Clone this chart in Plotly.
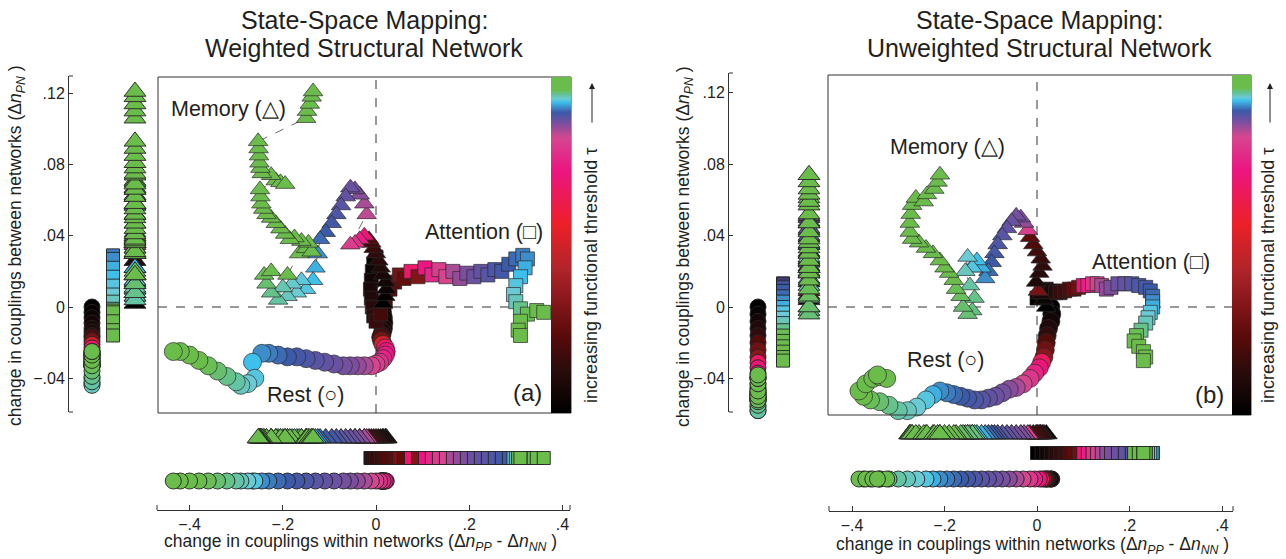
import plotly.graph_objects as go

# ---------------- DATA ----------------
# Panel (a): weighted structural network.  t = relative functional threshold (0..1)
rest_a_x = [0.012, 0.014, 0.016, 0.017, 0.016, 0.014, 0.012, 0.010, 0.012, 0.015, 0.020, 0.022, 0.020, 0.015, 0.008,
            0.000, -0.010, -0.025, -0.040, -0.055, -0.070, -0.090, -0.110, -0.130, -0.150, -0.170, -0.190, -0.210,
            -0.230, -0.245, -0.265, -0.260, -0.275, -0.290, -0.300, -0.320, -0.340, -0.360, -0.380, -0.400, -0.420, -0.435]
rest_a_y = [0.000, -0.003, -0.006, -0.009, -0.012, -0.014, -0.016, -0.017, -0.019, -0.021, -0.023, -0.025, -0.027, -0.029, -0.031,
            -0.032, -0.033, -0.033, -0.033, -0.033, -0.033, -0.032, -0.031, -0.030, -0.029, -0.028, -0.028, -0.027,
            -0.026, -0.026, -0.031, -0.040, -0.043, -0.044, -0.042, -0.039, -0.036, -0.033, -0.030, -0.027, -0.025, -0.025]
rest_a_t = [0.00, 0.02, 0.04, 0.06, 0.08, 0.10, 0.14, 0.20, 0.30, 0.50, 0.68, 0.71, 0.73, 0.75, 0.78,
            0.80, 0.82, 0.84, 0.85, 0.86, 0.865, 0.87, 0.875, 0.88, 0.885, 0.89, 0.895, 0.90,
            0.905, 0.91, 0.925, 0.93, 0.935, 0.94, 0.945, 0.95, 0.955, 0.96, 0.97, 0.98, 0.99, 1.00]

attn_a_x = [0.000, -0.005, -0.008, -0.010, -0.012, -0.010, -0.008, -0.005, 0.000, 0.010, 0.020, 0.030, 0.040, 0.050,
            0.060, 0.075, 0.090, 0.105, 0.120, 0.135, 0.150, 0.165, 0.180, 0.195, 0.210, 0.225, 0.240, 0.255, 0.270,
            0.285, 0.300, 0.315, 0.325, 0.320, 0.310, 0.300, 0.295, 0.300, 0.310, 0.325, 0.345, 0.360, 0.310, 0.305, 0.310]
attn_a_y = [0.028, 0.024, 0.020, 0.015, 0.010, 0.005, 0.000, -0.005, -0.008, -0.004, 0.003, 0.010, 0.014, 0.018,
            0.016, 0.020, 0.017, 0.022, 0.018, 0.021, 0.017, 0.020, 0.016, 0.019, 0.017, 0.020, 0.018, 0.021, 0.020,
            0.024, 0.027, 0.029, 0.027, 0.022, 0.017, 0.012, 0.007, 0.003, -0.001, -0.004, -0.002, -0.003, -0.008, -0.013, -0.016]
attn_a_t = [0.00, 0.02, 0.04, 0.06, 0.08, 0.10, 0.12, 0.14, 0.16, 0.18, 0.20, 0.22, 0.24, 0.30,
            0.25, 0.68, 0.32, 0.72, 0.76, 0.80, 0.82, 0.84, 0.85, 0.86, 0.87, 0.875, 0.88, 0.885, 0.89,
            0.895, 0.90, 0.905, 0.91, 0.92, 0.925, 0.93, 0.935, 0.94, 0.95, 0.96, 0.97, 0.975, 0.98, 0.99, 1.00]

mem_a_x = [0.015, 0.020, 0.022, 0.020, 0.015, 0.010, 0.005, 0.000, -0.005, -0.010, -0.015, -0.025, -0.035, -0.045, -0.055,
           -0.020, -0.025, -0.035, -0.045, -0.055, -0.065, -0.075, -0.085, -0.095, -0.108, -0.120,
           -0.125, -0.130, -0.135, -0.150, -0.160, -0.170, -0.180, -0.190, -0.200, -0.210, -0.225, -0.235, -0.240, -0.225, -0.190,
           -0.165, -0.150, -0.138, -0.145, -0.160, -0.175, -0.185, -0.195, -0.205, -0.215, -0.225, -0.235, -0.242, -0.246,
           -0.248, -0.249, -0.215, -0.205, -0.195, -0.225, -0.245, -0.248, -0.250, -0.251, -0.252, -0.253,
           -0.150, -0.148, -0.142, -0.138, -0.135]
mem_a_y = [0.002, 0.006, 0.010, 0.014, 0.018, 0.022, 0.026, 0.030, 0.033, 0.036, 0.038, 0.040, 0.038, 0.036, 0.035,
           0.052, 0.058, 0.063, 0.066, 0.067, 0.062, 0.057, 0.052, 0.047, 0.042, 0.038,
           0.030, 0.022, 0.015, 0.010, 0.015, 0.008, 0.013, 0.006, 0.011, 0.004, 0.008, 0.013, 0.018, 0.020, 0.018,
           0.030, 0.033, 0.031, 0.036, 0.037, 0.039, 0.038, 0.041, 0.044, 0.047, 0.050, 0.052, 0.055, 0.058,
           0.062, 0.066, 0.071, 0.070, 0.069, 0.074, 0.075, 0.078, 0.081, 0.085, 0.089, 0.093,
           0.106, 0.110, 0.114, 0.118, 0.121]
mem_a_t = [0.00, 0.02, 0.04, 0.06, 0.08, 0.10, 0.12, 0.14, 0.16, 0.18, 0.22, 0.70, 0.74, 0.78, 0.80,
           0.83, 0.84, 0.855, 0.865, 0.87, 0.875, 0.88, 0.885, 0.89, 0.895, 0.90,
           0.91, 0.92, 0.925, 0.93, 0.932, 0.935, 0.937, 0.94, 0.942, 0.945, 0.95, 0.955, 0.96, 0.962, 0.965,
           0.966, 0.967, 0.968, 0.969, 0.970, 0.971, 0.972, 0.973, 0.974, 0.975, 0.976, 0.977, 0.978, 0.979,
           0.980, 0.982, 0.984, 0.985, 0.986, 0.987, 0.988, 0.989, 0.990, 0.991, 0.992, 0.993,
           0.994, 0.995, 0.996, 0.998, 1.000]

# Panel (b): unweighted structural network
rest_b_x = [0.030, 0.032, 0.030, 0.025, 0.022, 0.020, 0.018, 0.015, 0.010, 0.005, -0.005, -0.015, -0.030, -0.045,
            -0.060, -0.075, -0.090, -0.105, -0.120, -0.135, -0.150, -0.165, -0.180, -0.195, -0.210, -0.225, -0.240,
            -0.260, -0.280, -0.300, -0.320, -0.340, -0.360, -0.375, -0.385, -0.370, -0.355, -0.340, -0.325, -0.345]
rest_b_y = [0.000, -0.004, -0.008, -0.012, -0.016, -0.020, -0.024, -0.028, -0.031, -0.034, -0.037, -0.040, -0.043, -0.045,
            -0.046, -0.048, -0.050, -0.051, -0.052, -0.052, -0.051, -0.050, -0.049, -0.048, -0.047, -0.049, -0.052,
            -0.056, -0.058, -0.058, -0.055, -0.053, -0.052, -0.050, -0.047, -0.043, -0.040, -0.039, -0.040, -0.038]
rest_b_t = [0.00, 0.03, 0.06, 0.10, 0.14, 0.22, 0.28, 0.34, 0.66, 0.70, 0.75, 0.79, 0.82, 0.84,
            0.855, 0.865, 0.87, 0.875, 0.88, 0.885, 0.89, 0.895, 0.90, 0.905, 0.91, 0.92, 0.93,
            0.935, 0.94, 0.945, 0.95, 0.955, 0.96, 0.965, 0.97, 0.975, 0.98, 0.985, 0.99, 1.00]

attn_b_x = [0.000, 0.010, 0.020, 0.030, 0.040, 0.050, 0.060, 0.070, 0.080, 0.090, 0.100, 0.110, 0.120, 0.130,
            0.140, 0.150, 0.160, 0.175, 0.190, 0.205, 0.220, 0.235, 0.245, 0.250, 0.250, 0.250, 0.245, 0.240,
            0.235, 0.225, 0.215, 0.210, 0.220, 0.230, 0.235, 0.230]
attn_b_y = [0.005, 0.008, 0.010, 0.009, 0.008, 0.008, 0.009, 0.010, 0.010, 0.011, 0.012, 0.012, 0.013, 0.013,
            0.012, 0.010, 0.011, 0.013, 0.013, 0.013, 0.012, 0.011, 0.009, 0.006, 0.003, 0.000, -0.003, -0.006,
            -0.009, -0.013, -0.016, -0.019, -0.022, -0.025, -0.028, -0.030]
attn_b_t = [0.00, 0.03, 0.06, 0.09, 0.12, 0.15, 0.18, 0.21, 0.24, 0.28, 0.70, 0.74, 0.78, 0.81,
            0.84, 0.85, 0.86, 0.87, 0.875, 0.88, 0.885, 0.89, 0.895, 0.90, 0.91, 0.92, 0.93, 0.935,
            0.94, 0.95, 0.96, 0.97, 0.975, 0.98, 0.99, 1.00]

mem_b_x = [0.020, 0.015, 0.008, 0.002, -0.002, 0.005, 0.012, 0.008, 0.000, -0.008, -0.015, -0.020, -0.028, -0.035,
           -0.045, -0.055, -0.065, -0.075, -0.085, -0.092, -0.098, -0.105,
           -0.112, -0.120, -0.130, -0.140, -0.150, -0.155, -0.145, -0.135, -0.140, -0.150, -0.160, -0.165, -0.175,
           -0.180, -0.190, -0.200, -0.210, -0.225, -0.240, -0.255, -0.270, -0.275, -0.275, -0.273, -0.270, -0.262,
           -0.245, -0.238, -0.222, -0.215, -0.210]
mem_b_y = [0.000, 0.004, 0.007, 0.009, 0.014, 0.019, 0.023, 0.027, 0.031, 0.035, 0.039, 0.043, 0.047, 0.050,
           0.051, 0.048, 0.044, 0.040, 0.035, 0.030, 0.025, 0.020,
           0.016, 0.022, 0.026, 0.022, 0.028, 0.020, 0.012, 0.005, -0.002, -0.004, 0.000, 0.006, 0.010,
           0.015, 0.019, 0.022, 0.026, 0.030, 0.033, 0.036, 0.038, 0.042, 0.047, 0.052, 0.057, 0.061,
           0.059, 0.063, 0.066, 0.070, 0.074]
mem_b_t = [0.00, 0.04, 0.08, 0.30, 0.10, 0.12, 0.14, 0.16, 0.18, 0.20, 0.24, 0.80, 0.85, 0.86,
           0.865, 0.87, 0.875, 0.88, 0.885, 0.89, 0.895, 0.90,
           0.91, 0.92, 0.925, 0.93, 0.935, 0.94, 0.945, 0.950, 0.952, 0.954, 0.956, 0.958, 0.960,
           0.962, 0.964, 0.966, 0.968, 0.970, 0.972, 0.974, 0.976, 0.978, 0.980, 0.982, 0.984, 0.986,
           0.988, 0.990, 0.993, 0.996, 1.000]

# Tick labels
y_tickvals = [0.12, 0.08, 0.04, 0.0, -0.04]
y_ticktext = [".12", ".08", ".04", "0", "\u2212.04"]
x_tickvals = [-0.4, -0.2, 0.0, 0.2, 0.4]
x_ticktext = ["\u2212.4", "\u2212.2", "0", ".2", ".4"]

titles_a = ["State-Space Mapping:", "Weighted Structural Network"]
titles_b = ["State-Space Mapping:", "Unweighted Structural Network"]

# ---------------- STYLE / LAYOUT ----------------
W, H = 1286, 559
FONT = "Liberation Sans, Arial, Helvetica, sans-serif"
INK = "#231f20"

COLORSCALE = [
    [0.00, "#000000"], [0.13, "#2a0c0c"], [0.23, "#5a0a0a"], [0.43, "#b0242a"],
    [0.56, "#ec2027"], [0.72, "#ec1581"], [0.82, "#d4478f"], [0.86, "#7e4e9e"],
    [0.895, "#3b5aa8"], [0.925, "#3ec0ec"], [0.935, "#6ccad4"], [0.947, "#62c39a"],
    [0.962, "#6bbd4b"], [1.00, "#6bbd4b"],
]


def hx(p0, p1):
    return [p0 / W, p1 / W]


def vy(top, bottom):
    return [1 - bottom / H, 1 - top / H]


PANELS = [
    dict(ax=1, cax="coloraxis", x0=376, xs=466, y0=307, ys=1781,
         main=(158, 551, 77, 413), cbar=(551, 571), left=(69, 146, 76, 412),
         cols=dict(rest=92, attn=113, mem=135),
         bottom=(157, 570, 420, 510), rows=dict(rest=481, attn=458, mem=438),
         data=dict(rest=(rest_a_x, rest_a_y, rest_a_t), attn=(attn_a_x, attn_a_y, attn_a_t),
                   mem=(mem_a_x, mem_a_y, mem_a_t)),
         titles=titles_a, title_x=364, ytitle=(16, 246), xtitle=(360, 542),
         labels=[("Memory (\u25b3)", 228, 109), ("Attention (\u25a1)", 484, 232), ("Rest (\u25cb)", 306, 395)],
         tag=("(a)", 527, 392), cbtitle=(591, 276), arrow=(592, 83, 124)),
    dict(ax=4, cax="coloraxis2", x0=1037, xs=462.5, y0=307, ys=1787,
         main=(828, 1232, 75, 415), cbar=(1232, 1251), left=(729, 824, 73, 412),
         cols=dict(rest=758, attn=783, mem=809),
         bottom=(829, 1233, 420, 511), rows=dict(rest=479, attn=453, mem=434),
         data=dict(rest=(rest_b_x, rest_b_y, rest_b_t), attn=(attn_b_x, attn_b_y, attn_b_t),
                   mem=(mem_b_x, mem_b_y, mem_b_t)),
         titles=titles_b, title_x=1039, ytitle=(684, 247), xtitle=(1032, 545),
         labels=[("Memory (\u25b3)", 947, 147), ("Attention (\u25a1)", 1151, 262), ("Rest (\u25cb)", 946, 360)],
         tag=("(b)", 1209, 394), cbtitle=(1268, 276), arrow=(1270, 83, 124)),
]

SYMS = dict(rest=("circle", 18, 16), attn=("square", 14, 13), mem=("triangle-up", 17, 19))
ORDER = ["rest", "attn", "mem"]
MLINE = dict(color="#2b2b2b", width=0.7)
SLINE = dict(color="#222222", width=0.9)
TICKFONT = dict(size=16, family=FONT, color=INK)

fig = go.Figure()
layout = dict(width=W, height=H, margin=dict(l=0, r=0, t=0, b=0),
              paper_bgcolor="white", plot_bgcolor="white", showlegend=False,
              font=dict(family=FONT, color=INK))
shapes, annots = [], []

for P in PANELS:
    k = P["ax"]
    names = ["" if i == 1 else str(i) for i in (k, k + 1, k + 2)]
    xm, ym = "x" + names[0], "y" + names[0]
    xl, yl = "x" + names[1], "y" + names[1]
    xb, yb = "x" + names[2], "y" + names[2]
    x0, xs, y0, ys = P["x0"], P["xs"], P["y0"], P["ys"]
    mL, mR, mT, mB = P["main"]
    xr_main = [(mL - x0) / xs, (mR - x0) / xs]
    yr_main = [(y0 - mB) / ys, (y0 - mT) / ys]
    lL, lR, lT, lB = P["left"]
    bL, bR, bT, bB = P["bottom"]

    hidden = dict(visible=False, showgrid=False, zeroline=False)
    layout["xaxis" + names[0]] = dict(hidden, domain=hx(mL, mR), range=xr_main, anchor=ym)
    layout["yaxis" + names[0]] = dict(hidden, domain=vy(mT, mB), range=yr_main, anchor=xm)
    layout["xaxis" + names[1]] = dict(hidden, domain=hx(lL, lR), range=[0, lR - lL], anchor=yl)
    layout["yaxis" + names[1]] = dict(domain=vy(lT, lB), range=[(y0 - lB) / ys, (y0 - lT) / ys], anchor=xl,
                                      showgrid=False, zeroline=False, showline=True, linecolor="#333",
                                      linewidth=1, ticks="inside", ticklen=4, tickcolor="#333",
                                      tickvals=y_tickvals, ticktext=y_ticktext, tickfont=TICKFONT)
    layout["xaxis" + names[2]] = dict(domain=hx(bL, bR), range=[(bL - x0) / xs, (bR - x0) / xs], anchor=yb,
                                      showgrid=False, zeroline=False, showline=True, linecolor="#333",
                                      linewidth=1, ticks="inside", ticklen=5, tickcolor="#333",
                                      tickvals=x_tickvals, ticktext=x_ticktext, tickfont=TICKFONT)
    layout["yaxis" + names[2]] = dict(hidden, domain=vy(bT, bB), range=[0, bB - bT], anchor=xb)

    cL, cR = P["cbar"]
    layout[P["cax"]] = dict(colorscale=COLORSCALE, cmin=0, cmax=1,
                            colorbar=dict(x=cL / W, xanchor="left", y=1 - mT / H, yanchor="top",
                                          len=mB - mT, lenmode="pixels", thickness=cR - cL,
                                          thicknessmode="pixels", xpad=0, ypad=0, outlinewidth=0,
                                          showticklabels=False, ticks=""))

    for key in ORDER:
        xs_, ys_, ts_ = P["data"][key]
        sym, msize, ssize = SYMS[key]
        col_px, row_px = P["cols"][key], P["rows"][key]
        fig.add_trace(go.Scatter(x=xs_, y=ys_, xaxis=xm, yaxis=ym, mode="lines+markers",
                                 line=dict(color="#444", width=0.8, dash="dash"),
                                 marker=dict(symbol=sym, size=msize, color=ts_, coloraxis=P["cax"], line=MLINE),
                                 cliponaxis=False, hoverinfo="skip"))
        fig.add_trace(go.Scatter(x=[col_px - lL] * len(ys_), y=ys_, xaxis=xl, yaxis=yl, mode="markers",
                                 marker=dict(symbol=sym, size=ssize, color=ts_, coloraxis=P["cax"], line=SLINE),
                                 cliponaxis=False, hoverinfo="skip"))
        fig.add_trace(go.Scatter(x=xs_, y=[bB - row_px] * len(xs_), xaxis=xb, yaxis=yb, mode="markers",
                                 marker=dict(symbol=sym, size=ssize, color=ts_, coloraxis=P["cax"], line=SLINE),
                                 cliponaxis=False, hoverinfo="skip"))

    shapes.append(dict(type="line", xref=xm, yref=ym, x0=0, x1=0, y0=yr_main[0], y1=yr_main[1],
                       line=dict(color="#333", width=1, dash="dash"), layer="below"))
    shapes.append(dict(type="line", xref=xm, yref=ym, x0=xr_main[0], x1=xr_main[1], y0=0, y1=0,
                       line=dict(color="#333", width=1, dash="dash"), layer="below"))
    shapes.append(dict(type="rect", xref="paper", yref="paper", x0=mL / W, x1=cR / W,
                       y0=1 - mB / H, y1=1 - mT / H, line=dict(color="#333", width=1)))
    for yy in (lT, lB):
        shapes.append(dict(type="line", xref="paper", yref="paper", x0=lL / W, x1=(lL + 4) / W,
                           y0=1 - yy / H, y1=1 - yy / H, line=dict(color="#333", width=1)))
    for xx in (bL, bR):
        shapes.append(dict(type="line", xref="paper", yref="paper", x0=xx / W, x1=xx / W,
                           y0=1 - bB / H, y1=1 - (bB - 5) / H, line=dict(color="#333", width=1)))

    for i, tline in enumerate(P["titles"]):
        annots.append(dict(text=tline, x=P["title_x"] / W, y=1 - (20 + 28.5 * i) / H, xref="paper", yref="paper",
                           showarrow=False, xanchor="center", yanchor="middle",
                           font=dict(size=25, family=FONT, color=INK)))
    tx, ty = P["ytitle"]
    annots.append(dict(text="change in couplings between networks (\u0394<i>n<sub>PN</sub></i> )",
                       x=tx / W, y=1 - ty / H, xref="paper", yref="paper", textangle=-90,
                       showarrow=False, xanchor="center", yanchor="middle",
                       font=dict(size=17.5, family=FONT, color=INK)))
    tx, ty = P["xtitle"]
    annots.append(dict(text="change in couplings within networks (\u0394<i>n<sub>PP</sub></i> - \u0394<i>n<sub>NN</sub></i> )",
                       x=tx / W, y=1 - ty / H, xref="paper", yref="paper",
                       showarrow=False, xanchor="center", yanchor="middle",
                       font=dict(size=17.5, family=FONT, color=INK)))
    for txt, lx, ly in P["labels"]:
        annots.append(dict(text=txt, x=lx / W, y=1 - ly / H, xref="paper", yref="paper",
                           showarrow=False, xanchor="center", yanchor="middle",
                           font=dict(size=21.5, family=FONT, color=INK)))
    txt, lx, ly = P["tag"]
    annots.append(dict(text=txt, x=lx / W, y=1 - ly / H, xref="paper", yref="paper",
                       showarrow=False, xanchor="center", yanchor="middle",
                       font=dict(size=24, family=FONT, color=INK)))
    cx, cy = P["cbtitle"]
    annots.append(dict(text="increasing functional threshold \u03c4", x=cx / W, y=1 - cy / H,
                       xref="paper", yref="paper", textangle=-90, showarrow=False,
                       xanchor="center", yanchor="middle", font=dict(size=18, family=FONT, color=INK)))
    axp, tip, tail = P["arrow"]
    annots.append(dict(text="", x=axp / W, y=1 - tip / H, xref="paper", yref="paper",
                       showarrow=True, ax=0, ay=tail - tip, arrowhead=2, arrowsize=1.2,
                       arrowwidth=1, arrowcolor=INK))

layout["shapes"] = shapes
layout["annotations"] = annots
fig.update_layout(**layout)
fig.write_html("out.html", config={"displayModeBar": False},
               post_script="document.body.style.margin='0';document.body.style.padding='0';")
